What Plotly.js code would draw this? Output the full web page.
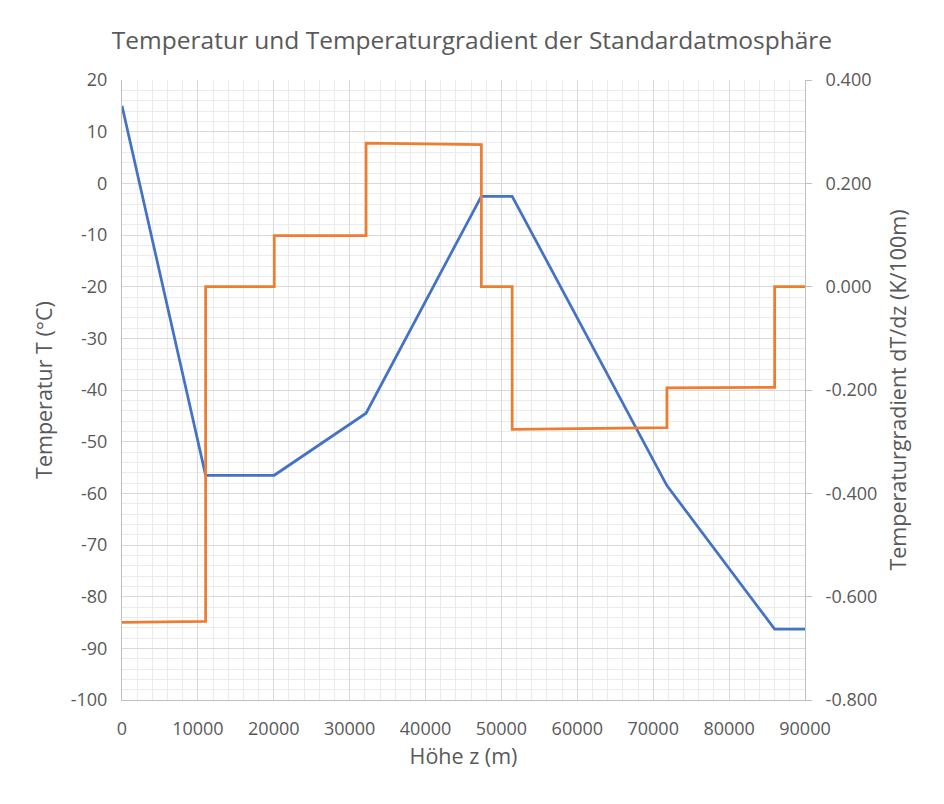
<!DOCTYPE html>
<html>
<head>
<meta charset="utf-8">
<script src="https://cdn.plot.ly/plotly-3.0.1.min.js"></script>
<style>
  body { margin: 0; background: #fff; }
  #chart_holder { width: 944px; height: 804px; outline: 1px solid #d9d9d9; outline-offset: -3px; }
</style>
</head>
<body>
<div id="chart_holder"></div>
<script>
// Höhen der Schichtgrenzen (geometrisch, m)
let hoehe = [0, 11019, 20063, 32162, 47350, 51413, 71802, 86000, 90000];
let temperatur = [15, -56.5, -56.5, -44.5, -2.5, -2.5, -58.5, -86.28, -86.28];

// Temperaturgradient als Stufenlinie
let grad_z = [0, 11019, 11019, 20063, 20063, 32162, 32162, 47350, 47350, 51413, 51413, 71802, 71802, 86000, 86000, 90000];
let grad_wert = [-0.650, -0.648, 0, 0, 0.099, 0.099, 0.278, 0.275, 0, 0, -0.276, -0.273, -0.196, -0.195, 0, 0];

// Achsenbeschriftungen (mit normalem Bindestrich wie in Excel)
let temp_ticks = [20, 10, 0, -10, -20, -30, -40, -50, -60, -70, -80, -90, -100];
let temp_labels = ["20", "10", "0", "-10", "-20", "-30", "-40", "-50", "-60", "-70", "-80", "-90", "-100"];
let grad_ticks = [0.4, 0.2, 0, -0.2, -0.4, -0.6, -0.8];
let grad_labels = ["0.400", "0.200", "0.000", "-0.200", "-0.400", "-0.600", "-0.800"];

let chart_holder = document.querySelector("#chart_holder");
let font_name = "Open Sans, Noto Sans, sans-serif";
let grey = "#595959";

let trace1 = {
    x: hoehe,
    y: temperatur,
    type: "scatter",
    mode: "lines",
    name: "Temperatur",
    line: { color: "#4472c4", width: 2.75 }
};
let trace2 = {
    x: grad_z,
    y: grad_wert,
    type: "scatter",
    mode: "lines",
    name: "Gradient",
    yaxis: "y2",
    line: { color: "#ed7d31", width: 2.75 }
};

let layout = {
    width: 944,
    height: 804,
    showlegend: false,
    paper_bgcolor: "#fff",
    plot_bgcolor: "#fff",
    margin: { l: 122, r: 139, t: 80, b: 104 },
    font: { family: font_name, color: grey, size: 18 },
    title: {
        text: "Temperatur und Temperaturgradient der Standardatmosphäre",
        font: { size: 24.5, color: grey },
        x: 0.5, xanchor: "center", y: 0.95, yanchor: "middle"
    },
    xaxis: {
        range: [0, 90000],
        dtick: 10000,
        tickformat: "d",
        showgrid: true,
        gridcolor: "#d9d9d9",
        gridwidth: 1,
        minor: { dtick: 2000, showgrid: true, gridcolor: "#ebebeb", gridwidth: 1 },
        showline: true,
        linecolor: "#bfbfbf",
        linewidth: 1,
        zeroline: false,
        ticks: "",
        ticklabelstandoff: 12,
        title: { text: "Höhe z (m)", font: { size: 21.5, color: grey }, standoff: 10 }
    },
    yaxis: {
        range: [-100, 20],
        tickmode: "array",
        tickvals: temp_ticks,
        ticktext: temp_labels,
        showgrid: true,
        gridcolor: "#d9d9d9",
        gridwidth: 1,
        minor: { dtick: 2, showgrid: true, gridcolor: "#ebebeb", gridwidth: 1 },
        showline: true,
        linecolor: "#bfbfbf",
        linewidth: 1,
        zeroline: false,
        ticks: "",
        ticklabelstandoff: 10,
        title: { text: "Temperatur T (°C)", font: { size: 21.5, color: grey }, standoff: 12 }
    },
    yaxis2: {
        overlaying: "y",
        side: "right",
        range: [-0.8, 0.4],
        tickmode: "array",
        tickvals: grad_ticks,
        ticktext: grad_labels,
        showgrid: false,
        zeroline: false,
        showline: true,
        linecolor: "#bfbfbf",
        linewidth: 1,
        ticks: "outside",
        ticklen: 6,
        tickcolor: "#bfbfbf",
        ticklabelstandoff: 10,
        title: { text: "Temperaturgradient dT/dz (K/100m)", font: { size: 21.5, color: grey }, standoff: 14 }
    }
};

Plotly.newPlot(chart_holder, [trace1, trace2], layout, { displayModeBar: false, staticPlot: true });
</script>
</body>
</html>
